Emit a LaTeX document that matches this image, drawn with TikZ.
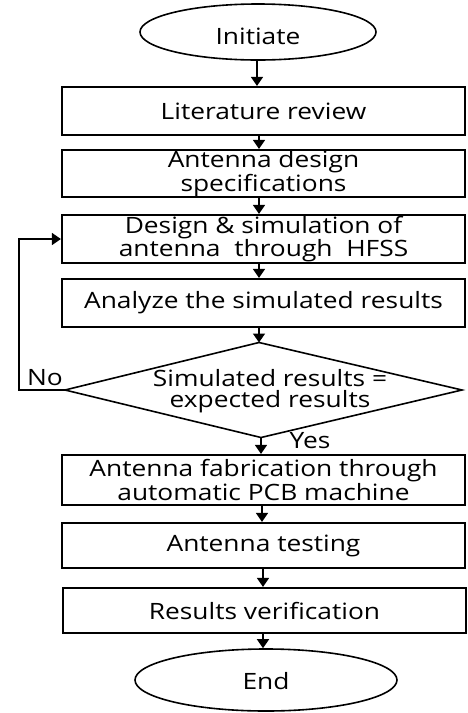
\documentclass[tikz,border=0pt]{standalone}
\usepackage{fontspec}
\setmainfont[FakeStretch=1.17]{Open Sans}
\usetikzlibrary{shapes.geometric,arrows.meta}
\begin{document}
\begin{tikzpicture}[x=1pt,y=-1pt,
  txt/.style={font=\fontsize{22.5}{19}\selectfont},
  box/.style={draw,line width=2.2pt,minimum width=403pt,align=center,inner sep=0pt,txt},
  term/.style={draw,ellipse,line width=1.6pt,inner sep=0pt,txt},
  arr/.style={line width=1.6pt,-{Triangle[width=12pt,length=9pt]}},
  lbl/.style={txt,inner sep=0pt}]
\useasboundingbox (0,0) rectangle (467,713);
\node[term,minimum width=236pt,minimum height=56pt] (init) at (258,32) {};
\node[txt,inner sep=0pt] (initt) at (258,36) {Initiate};
\node[box,minimum height=48pt] (lit) at (263.5,111) {Literature review};
\node[box,minimum height=47pt] (spec) at (263.5,173.5) {Antenna design\\specifications};
\node[box,minimum height=48pt] (des) at (263.5,239) {Design \& simulation of\\antenna\ \ through\ \ HFSS};
\node[box,minimum height=48pt] (ana) at (263.5,303) {Analyze the simulated results};
% decision diamond
\coordinate (dtop) at (259,342.5);
\coordinate (dbot) at (261,437.5);
\coordinate (dleft) at (65,390);
\coordinate (dright) at (462,390);
\draw[line width=1.6pt,line join=miter] (dtop) -- (dright) -- (dbot) -- (dleft) -- cycle;
\node[align=center,inner sep=0pt,font=\fontsize{22.5}{20.5}\selectfont] (dec) at (270,391) {Simulated results =\\expected results};
\node[box,minimum height=50pt] (fab) at (263.5,480) {Antenna fabrication through\\automatic PCB machine};
\node[box,minimum height=45pt] (test) at (263.5,545.5) {Antenna testing};
\node[box,minimum height=45pt] (res) at (264.5,610.5) {Results verification};
\node[term,minimum width=262pt,minimum height=62pt] (end) at (266,680) {};
\node[txt,inner sep=0pt] (endt) at (266,681) {End};
\node[lbl] (no) at (45,378) {No};
\node[lbl] (yes) at (310,441) {Yes};
\draw[arr] (init.south -| 257,0) -- (257,0 |- lit.north);
\draw[arr] (lit.south -| 259,0) -- (259,0 |- spec.north);
\draw[arr] (spec.south -| 259,0) -- (259,0 |- des.north);
\draw[arr] (des.south -| 259,0) -- (259,0 |- ana.north);
\draw[arr] (ana.south -| dtop) -- (dtop);
\draw[arr] (dbot) -- (dbot |- fab.north);
\draw[arr] (fab.south -| 262,0) -- (262,0 |- test.north);
\draw[arr] (test.south -| 263,0) -- (263,0 |- res.north);
\draw[arr] (res.south -| 263,0) -- (263,0 |- end.north);
\coordinate (fb) at (19,390);
\draw[arr] (dleft) -- (fb) |- (des.west);
\end{tikzpicture}
\end{document}
